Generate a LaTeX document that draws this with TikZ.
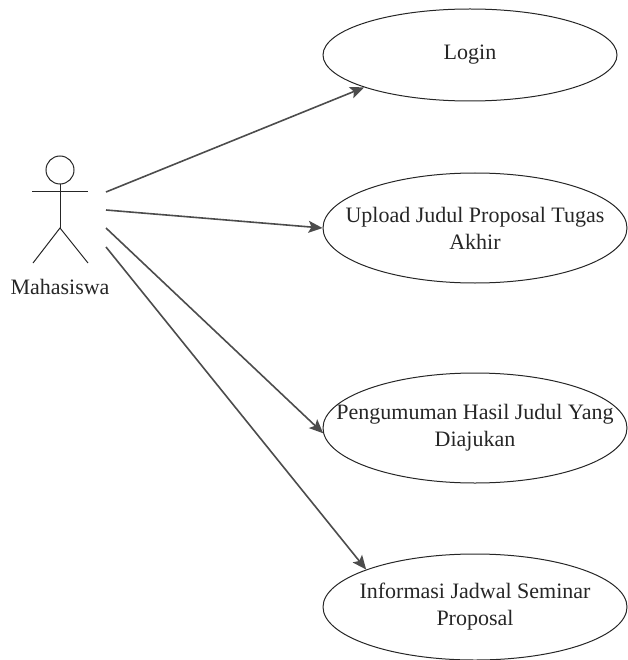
\documentclass[tikz,border=0pt]{standalone}
\usepackage{fontspec}
\setmainfont{Liberation Serif}
\newfontfamily\ucFont{Liberation Serif}
\usetikzlibrary{shapes.geometric,arrows.meta}
\newcommand{\ucText}[0]{\ucFont\fontsize{22}{27}\selectfont}

\begin{document}
\begin{tikzpicture}[x=1pt, y=-1pt]
  \tikzset{usecase/.style={ellipse, draw=black!85, line width=1pt, minimum width=304pt, minimum height=110pt, inner sep=0pt},
           uctext/.style={align=center, font=\ucText, text=black!85},
           assoc/.style={draw=black!70, line width=1.6pt, -{Stealth[length=14pt,width=12pt,inset=3pt]}},
           limb/.style={draw=black!85, line width=1pt}}
  \useasboundingbox (0,0) rectangle (627,660);
  % actor
  \node[circle, limb, minimum size=28pt, inner sep=0pt] (head) at (60,170) {};
  \coordinate (hip) at (60,228);
  \draw[limb] (32,192) -- (88,192);
  \draw[limb] (head.south) -- (hip);
  \draw[limb] (33,263) -- (hip) -- (88,263);
  \node[uctext] (actor) at (60,287) {Mahasiswa};
  % use cases
  \node[usecase, minimum width=294pt, minimum height=92pt] (login) at (470,55) {};
  \node[uctext] (login-t) at (login.center) {Login};
  \node[usecase] (upload) at (475,228) {};
  \node[uctext] (upload-t) at (upload.center) {Upload Judul Proposal Tugas\\Akhir};
  \node[usecase] (hasil) at (475,428) {};
  \node[uctext] (hasil-t) at (hasil.center) {Pengumuman Hasil Judul Yang\\Diajukan};
  \node[usecase, minimum height=106pt] (jadwal) at (475,607) {};
  \node[uctext] (jadwal-t) at (jadwal.center) {Informasi Jadwal Seminar\\Proposal};
  % associations
  \coordinate (a1) at (106,192);
  \coordinate (a2) at (106,210);
  \coordinate (a3) at (106,228);
  \coordinate (a4) at (106,247);
  \draw[assoc] (a1) -- (login.197);
  \draw[assoc] (a2) -- (upload.west);
  \draw[assoc] (a3) -- (hasil.182);
  \draw[assoc] (a4) -- (jadwal.161);
\end{tikzpicture}
\end{document}
